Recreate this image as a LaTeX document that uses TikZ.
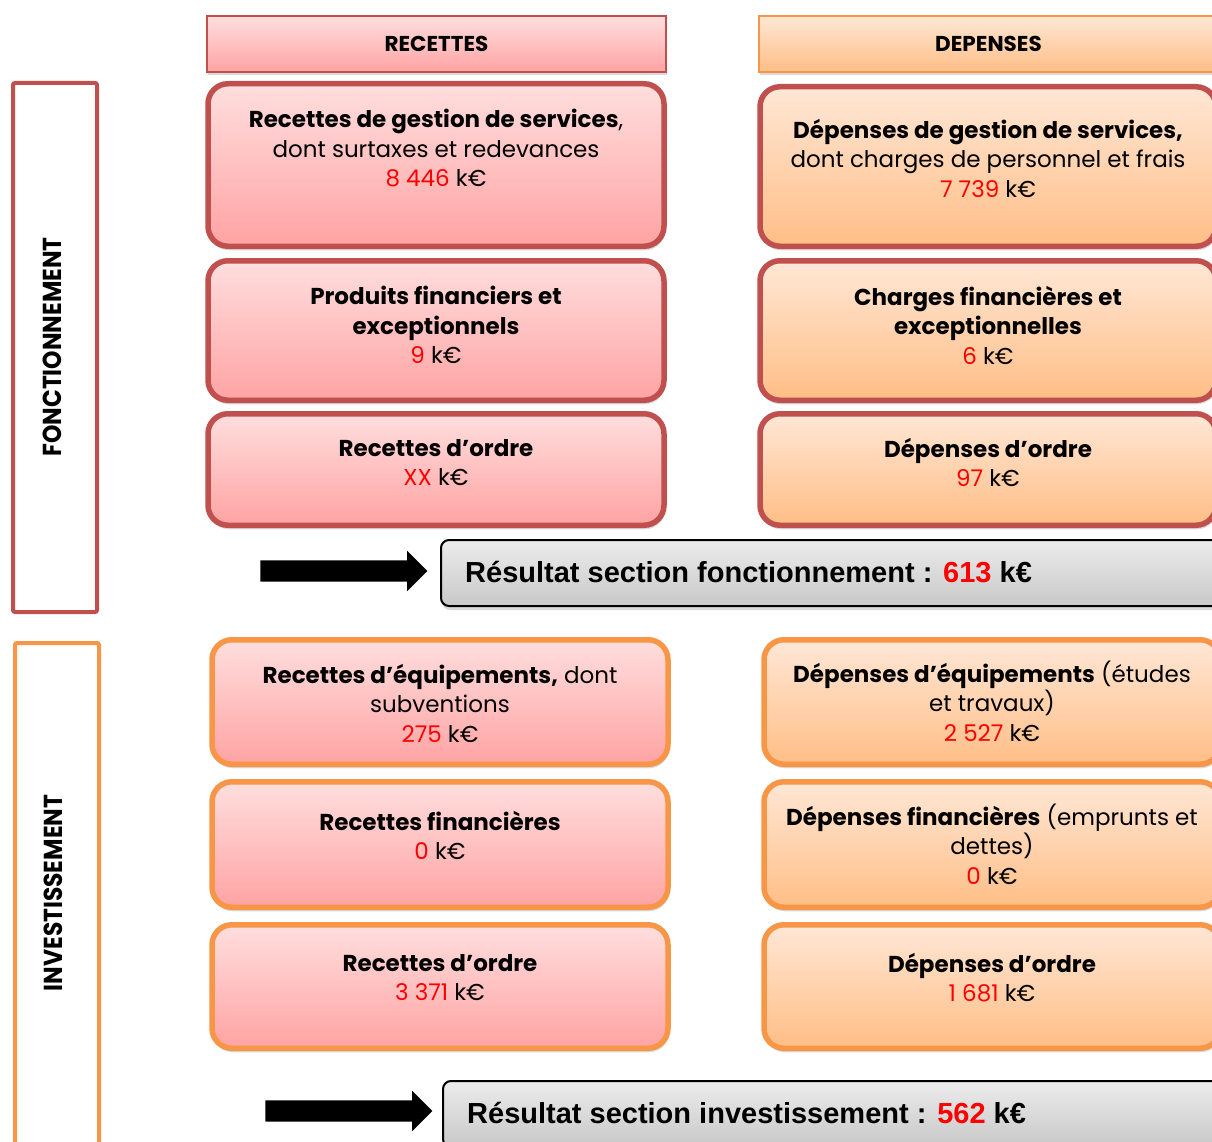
\documentclass[tikz,border=0pt]{standalone}
\usepackage{fontspec}
\setmainfont{Poppins}
\newfontfamily\resfont{Liberation Sans}
\newfontfamily\sidefont{Poppins}[FakeStretch=0.9]
\usetikzlibrary{shapes.arrows,shadows,positioning}
\definecolor{cRed}{RGB}{192,80,77}
\definecolor{cOrange}{RGB}{247,150,70}
\definecolor{cRtop}{RGB}{255,222,222}
\definecolor{cRbot}{RGB}{255,163,163}
\definecolor{cDtop}{RGB}{255,231,214}
\definecolor{cDbot}{RGB}{255,190,134}
\definecolor{cGtop}{RGB}{236,236,236}
\definecolor{cGbot}{RGB}{200,200,200}
\definecolor{cNum}{RGB}{255,0,0}
\newcommand{\kval}[1]{\textcolor{cNum}{#1} k€}

\begin{document}
\begin{tikzpicture}[x=1pt,y=-1pt,
  box/.style={draw,rounded corners=20pt,line width=5.5pt,inner sep=0pt,
    drop shadow={shadow xshift=1pt,shadow yshift=-4pt,opacity=0.3}},
  recbox/.style={box,top color=cRtop,bottom color=cRbot},
  depbox/.style={box,top color=cDtop,bottom color=cDbot},
  hdr/.style={draw,line width=2pt,inner sep=0pt,minimum width=459pt,minimum height=56pt,
    font=\fontsize{21.5}{24}\selectfont\bfseries,
    drop shadow={shadow xshift=1pt,shadow yshift=-3pt,opacity=0.3}},
  side/.style={draw,line width=4pt,rounded corners=2pt,minimum width=84pt},
  sidelbl/.style={rotate=90,inner sep=0pt,font=\sidefont\fontsize{26}{30}\selectfont\bfseries},
  txt/.style={align=center,inner sep=0pt,font=\fontsize{23}{29.5}\selectfont},
  resbox/.style={draw=black,line width=2pt,rounded corners=8pt,top color=cGtop,bottom color=cGbot,
    minimum width=780pt,minimum height=66pt,
    drop shadow={shadow xshift=1pt,shadow yshift=-4pt,opacity=0.3}},
  restxt/.style={anchor=base west,inner sep=0pt,font=\resfont\fontsize{29}{34}\selectfont\bfseries},
  bigarrow/.style={single arrow,fill=black,inner xsep=0pt,inner ysep=10.5pt,
    single arrow head extend=9.5pt,minimum height=167pt}]
\useasboundingbox (0,0) rectangle (1212,1142);
\clip (0,0) rectangle (1212,1142);

\node[side,draw=cRed,minimum height=529pt] (sfon) at (55,347.5) {};
\node[sidelbl] (sfonl) at (52,347) {FONCTIONNEMENT};
\node[side,draw=cOrange,minimum height=532pt] (sinv) at (57,909) {};
\node[sidelbl] (sinvl) at (53,893) {INVESTISSEMENT};

\node[hdr,draw=cRed,top color=cRtop,bottom color=cRbot] (hrec) at (436.5,44) {RECETTES};
\node[hdr,draw=cOrange,top color=cDtop,bottom color=cDbot] (hdep) at (988.5,44) {DEPENSES};

\node[recbox,draw=cRed,minimum width=456pt,minimum height=162.5pt] (fr1) at (436,165) {};
\node[depbox,draw=cRed,minimum width=456pt,minimum height=159.5pt] (fd1) at (988,166.5) {};
\node[recbox,draw=cRed,minimum width=456pt,minimum height=139.5pt] (fr2) at (436,330.5) {};
\node[depbox,draw=cRed,minimum width=456pt,minimum height=139.5pt] (fd2) at (988,330.5) {};
\node[recbox,draw=cRed,minimum width=456pt,minimum height=111.5pt] (fr3) at (436,469.5) {};
\node[depbox,draw=cRed,minimum width=456pt,minimum height=111.5pt] (fd3) at (988,469.5) {};

\node[txt] (fr1t) at (436,148.5) {\textbf{Recettes de gestion de services},\\dont surtaxes et redevances\\\kval{8 446}};
\node[txt] (fd1t) at (988,158) {\textbf{Dépenses de gestion de services,}\\dont charges de personnel et frais\\\kval{7 739}};
\node[txt] (fr2t) at (436,325) {\textbf{Produits financiers et}\\\textbf{exceptionnels}\\\kval{9}};
\node[txt] (fd2t) at (988,325) {\textbf{Charges financières et}\\\textbf{exceptionnelles}\\\kval{6}};
\node[txt] (fr3t) at (436,462.5) {\textbf{Recettes d’ordre}\\\kval{XX}};
\node[txt] (fd3t) at (988,462.5) {\textbf{Dépenses d’ordre}\\\kval{97}};

\node[bigarrow] (arr1) at (338.5,571) {};
\node[resbox] (res1) at (831,573) {};
\node[restxt] (res1t) at (465,582) {Résultat section fonctionnement : \textcolor{cNum}{613} k€};

\node[recbox,draw=cOrange,minimum width=456pt,minimum height=124.5pt] (ir1) at (440,702) {};
\node[depbox,draw=cOrange,minimum width=456pt,minimum height=124.5pt] (id1) at (992,702) {};
\node[recbox,draw=cOrange,minimum width=456pt,minimum height=125.5pt] (ir2) at (440,844.5) {};
\node[depbox,draw=cOrange,minimum width=456pt,minimum height=125.5pt] (id2) at (992,844.5) {};
\node[recbox,draw=cOrange,minimum width=456pt,minimum height=123.5pt] (ir3) at (440,986.5) {};
\node[depbox,draw=cOrange,minimum width=456pt,minimum height=123.5pt] (id3) at (992,986.5) {};

\node[txt] (ir1t) at (440,703) {\textbf{Recettes d’équipements,} dont\\subventions\\\kval{275}};
\node[txt] (id1t) at (992,701) {\textbf{Dépenses d’équipements} (études\\et travaux)\\\kval{2 527}};
\node[txt] (ir2t) at (440,835.5) {\textbf{Recettes financières}\\\kval{0}};
\node[txt] (id2t) at (992,844) {\textbf{Dépenses financières} (emprunts et\\dettes)\\\kval{0}};
\node[txt] (ir3t) at (440,977.5) {\textbf{Recettes d’ordre}\\\kval{3 371}};
\node[txt] (id3t) at (992,977.5) {\textbf{Dépenses d’ordre}\\\kval{1 681}};

\node[bigarrow] (arr2) at (343.5,1111) {};
\node[resbox] (res2) at (833,1114) {};
\node[restxt] (res2t) at (467,1123) {Résultat section investissement : \textcolor{cNum}{562} k€};
\end{tikzpicture}
\end{document}
